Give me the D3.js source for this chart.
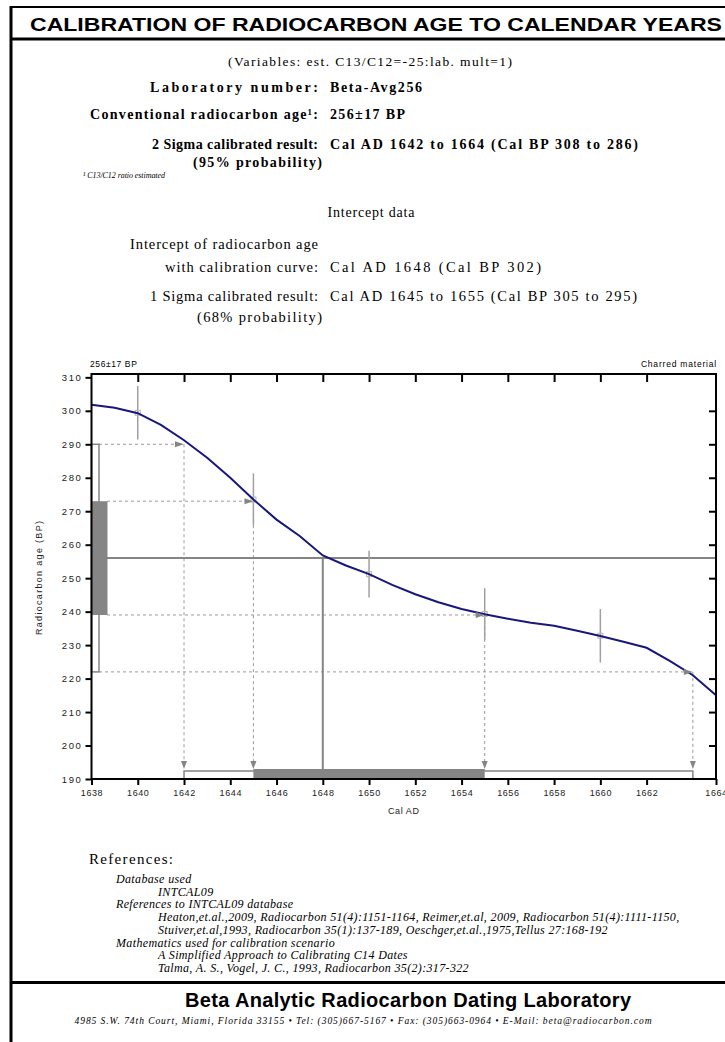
<!DOCTYPE html>
<html>
<head>
<meta charset="utf-8">
<script src="https://cdn.jsdelivr.net/npm/d3@7"></script>
<style>
body { margin: 0; background: #fff; }
svg { display: block; }
</style>
</head>
<body>
<div id="chart"></div>
<script>

// measured sample
const sampleLabel = '256±17 BP';
const materialLabel = 'Charred material';
const measuredAge = 256;
const measuredSigma = 17;
const sigma2Years = [1642, 1664];
const sigma1Years = [1645, 1655];
const interceptYear = 1648;

// calibration curve (INTCAL09)
const curveYears = [1638, 1639, 1640, 1641, 1642, 1643, 1644, 1645, 1646, 1647, 1648, 1649, 1650, 1651,
	1652, 1653, 1654, 1655, 1656, 1657, 1658, 1659, 1660, 1661, 1662, 1663, 1664, 1665];
const curveAges = [301.8, 300.9, 299.3, 295.8, 291.2, 286.0, 280.0, 273.5, 267.5, 262.6, 256.8, 253.8, 251.2, 248.0,
	245.2, 242.8, 240.8, 239.2, 237.9, 236.7, 235.8, 234.3, 232.7, 231.0, 229.2, 225.3, 221.0, 215.0];

// calibration data points with their errors
const dataYears = [1640, 1645, 1650, 1655, 1660];
const dataAges = [299.4, 273.5, 251.2, 239.3, 232.8];
const dataErrors = [8, 7.8, 7, 7.7, 8];

// axes
const xTickValues = [1638, 1640, 1642, 1644, 1646, 1648, 1650, 1652, 1654, 1656, 1658, 1660, 1662, 1665];
const xTickLabels = ['1638', '1640', '1642', '1644', '1646', '1648', '1650', '1652', '1654', '1656', '1658', '1660', '1662', '1664'];
const yTickValues = [190, 200, 210, 220, 230, 240, 250, 260, 270, 280, 290, 300, 310];

// report texts
const titleText = 'CALIBRATION OF RADIOCARBON  AGE TO CALENDAR YEARS';
const variablesText = '(Variables:  est. C13/C12=-25:lab. mult=1)';
const reportLabels = ['Laboratory number:', 'Conventional radiocarbon age¹:', '2 Sigma calibrated result:', '(95% probability)'];
const reportValues = ['Beta-Avg256', '256±17 BP', 'Cal AD 1642 to 1664 (Cal BP 308 to 286)'];
const footnoteText = '¹ C13/C12 ratio estimated';
const interceptTitle = 'Intercept data';
const interceptLabels = ['Intercept of radiocarbon age', 'with calibration curve:', '1 Sigma calibrated result:', '(68% probability)'];
const interceptValues = ['Cal AD 1648 (Cal BP 302)', 'Cal AD 1645 to 1655 (Cal BP 305 to 295)'];
const referenceLines = ['Database used', 'INTCAL09', 'References to INTCAL09 database',
	'Heaton,et.al.,2009, Radiocarbon 51(4):1151-1164, Reimer,et.al, 2009, Radiocarbon 51(4):1111-1150,',
	'Stuiver,et.al,1993, Radiocarbon 35(1):137-189, Oeschger,et.al.,1975,Tellus 27:168-192',
	'Mathematics used for calibration scenario', 'A Simplified Approach to Calibrating C14 Dates',
	'Talma, A. S., Vogel, J. C., 1993, Radiocarbon 35(2):317-322'];
const referenceIndent = [0, 1, 0, 1, 1, 0, 1, 1];
const labName = 'Beta Analytic Radiocarbon Dating Laboratory';
const addressText = '4985 S.W. 74th Court, Miami, Florida 33155 • Tel: (305)667-5167 • Fax: (305)663-0964 • E-Mail: beta@radiocarbon.com';

const width = 725;
const height = 1042;
const serif = '"Liberation Serif", "Times New Roman", serif';
const sans = '"Liberation Sans", Arial, sans-serif';
const grey = '#858585';

let svg = d3.select('#chart').append('svg')
	.attr('width', width)
	.attr('height', height);

// page frame
svg.append('line').attr('x1', 11).attr('x2', width).attr('y1', 7).attr('y2', 7)
	.style('stroke', '#000').style('stroke-width', 2);
svg.append('line').attr('x1', 11).attr('x2', 11).attr('y1', 6).attr('y2', height)
	.style('stroke', '#000').style('stroke-width', 3);
svg.append('line').attr('x1', 11).attr('x2', width).attr('y1', 39).attr('y2', 39)
	.style('stroke', '#000').style('stroke-width', 3);
svg.append('line').attr('x1', 11).attr('x2', width).attr('y1', 982.5).attr('y2', 982.5)
	.style('stroke', '#000').style('stroke-width', 3);

const addText = (txt, x, y, opts) => {
	let t = svg.append('text')
	.attr('x', x)
	.attr('y', y)
	.attr('text-anchor', opts.anchor || 'start')
	.style('font-family', opts.family || serif)
	.style('font-size', opts.size + 'px')
	.style('font-weight', opts.weight || 'normal')
	.style('font-style', opts.italic ? 'italic' : 'normal')
	.style('fill', opts.fill || '#000')
	.text(txt);
	if(opts.len) t.attr('textLength', opts.len).attr('lengthAdjust', opts.adjust || 'spacing');
	if(opts.spacing) t.style('letter-spacing', opts.spacing + 'px');
	return t;
}

addText(titleText, 376, 31, {family: sans, size: 19, weight: 'bold', anchor: 'middle', len: 692, adjust: 'spacingAndGlyphs'});
addText(variablesText, 370, 66, {size: 13.5, anchor: 'middle', len: 284});

// report block, labels right aligned against values
const labelRight = 318;
const valueLeft = 330;
const reportY = [92, 119, 149, 167];
const reportLabelLen = [168, 228, 166, 129];
const reportValueLen = [92, 75, 308];
reportLabels.forEach((l, i) => {
	addText(l, i == 3 ? 322 : labelRight, reportY[i], {size: 14, weight: 'bold', anchor: 'end', len: reportLabelLen[i]});
})
reportValues.forEach((v, i) => {
	addText(v, valueLeft, reportY[i], {size: 14, weight: 'bold', len: reportValueLen[i]});
})
addText(footnoteText, 83, 178, {size: 8, italic: true, len: 82});

addText(interceptTitle, 371, 217, {size: 14, anchor: 'middle', len: 87});
const interceptY = [249, 272, 301, 322];
const interceptLabelLen = [188, 153, 168, 125];
const interceptValueLen = [211, 307];
interceptLabels.forEach((l, i) => {
	addText(l, i == 3 ? 322 : labelRight, interceptY[i], {size: 14.5, anchor: 'end', len: interceptLabelLen[i]});
})
interceptValues.forEach((v, i) => {
	addText(v, valueLeft, interceptY[i + 1], {size: 14.5, len: interceptValueLen[i]});
})

// chart
const plot = {left: 91.5, right: 716, top: 374, bottom: 779};

let x = d3.scaleLinear().domain([1638, 1665]).range([plot.left, plot.right]);
let y = d3.scaleLinear().domain([190, 311]).range([plot.bottom, plot.top]);

let chart = svg.append('g');

addText(sampleLabel, 90, 367, {family: sans, size: 8.5, spacing: 0.6});
addText(materialLabel, 717, 367, {family: sans, size: 8.5, anchor: 'end', spacing: 0.8});

const lo2 = measuredAge - 2 * measuredSigma;
const hi2 = measuredAge + 2 * measuredSigma;
const lo1 = measuredAge - measuredSigma;
const hi1 = measuredAge + measuredSigma;

// dashed projections from the age range to the curve, then down to the year axis
const projections = [
	{age: hi2, year: sigma2Years[0], from: 99},
	{age: hi1, year: sigma1Years[0], from: 107},
	{age: lo1, year: sigma1Years[1], from: 107},
	{age: lo2, year: sigma2Years[1], from: 99}
];

let dashes = chart.append('g')
	.style('stroke', '#9a9a9a')
	.style('stroke-width', 1)
	.style('stroke-dasharray', '3,3')
	.style('fill', 'none');

projections.forEach(p => {
	dashes.append('line')
	.attr('x1', p.from).attr('x2', x(p.year) - 8)
	.attr('y1', y(p.age)).attr('y2', y(p.age));
	dashes.append('line')
	.attr('x1', x(p.year)).attr('x2', x(p.year))
	.attr('y1', y(p.age)).attr('y2', y(190) - 17);
})

// intercept lines
chart.append('line')
	.attr('x1', 107).attr('x2', plot.right)
	.attr('y1', y(measuredAge)).attr('y2', y(measuredAge))
	.style('stroke', grey).style('stroke-width', 2);
chart.append('line')
	.attr('x1', x(interceptYear)).attr('x2', x(interceptYear))
	.attr('y1', y(measuredAge)).attr('y2', y(190))
	.style('stroke', grey).style('stroke-width', 2);

// calibration data with error bars
let points = chart.append('g');
dataYears.forEach((yr, i) => {
	points.append('line')
	.attr('x1', x(yr)).attr('x2', x(yr))
	.attr('y1', y(dataAges[i] + dataErrors[i])).attr('y2', y(dataAges[i] - dataErrors[i]))
	.style('stroke', '#a0a0a0').style('stroke-width', 1.5);
	points.append('rect')
	.attr('x', x(yr) - 2.5).attr('y', y(dataAges[i]) - 2.5)
	.attr('width', 5).attr('height', 5)
	.style('fill', 'none').style('stroke', '#b5b5b5');
})

// calibration curve
let line = d3.line()
	.x(d => x(d[0]))
	.y(d => y(d[1]));

chart.append('path')
	.datum(curveYears.map((yr, i) => [yr, curveAges[i]]))
	.attr('d', line)
	.style('fill', 'none')
	.style('stroke', '#17177d')
	.style('stroke-width', 2);

// arrowheads
projections.forEach(p => {
	let tx = x(p.year), ty = y(p.age);
	chart.append('path')
	.attr('d', `M${tx},${ty}L${tx - 9},${ty - 3}L${tx - 9},${ty + 3}Z`)
	.style('fill', grey);
	let by = y(190) - 10;
	chart.append('path')
	.attr('d', `M${tx},${by}L${tx - 3},${by - 8}L${tx + 3},${by - 8}Z`)
	.style('fill', grey);
})

// age ranges on the y axis
chart.append('rect')
	.attr('x', plot.left).attr('y', y(hi2))
	.attr('width', 7.5).attr('height', y(lo2) - y(hi2))
	.style('fill', '#fff').style('stroke', grey).style('stroke-width', 1.5);
chart.append('rect')
	.attr('x', plot.left).attr('y', y(hi1))
	.attr('width', 16).attr('height', y(lo1) - y(hi1))
	.style('fill', grey);

// calendar ranges on the x axis
chart.append('rect')
	.attr('x', x(sigma2Years[0])).attr('y', y(190) - 8)
	.attr('width', x(sigma2Years[1]) - x(sigma2Years[0])).attr('height', 8)
	.style('fill', '#fff').style('stroke', grey).style('stroke-width', 1.5);
chart.append('rect')
	.attr('x', x(sigma1Years[0])).attr('y', y(190) - 10)
	.attr('width', x(sigma1Years[1]) - x(sigma1Years[0])).attr('height', 10)
	.style('fill', grey);

// axes
let xAxis = chart.append('g')
	.attr('transform', `translate(0,${plot.bottom})`)
	.call(d3.axisBottom(x).tickValues(xTickValues).tickFormat((d, i) => xTickLabels[i]).tickSize(6).tickPadding(5));

let yAxis = chart.append('g')
	.attr('transform', `translate(${plot.left},0)`)
	.call(d3.axisLeft(y).tickValues(yTickValues).tickSize(6).tickPadding(3));

let topAxis = chart.append('g')
	.attr('transform', `translate(0,${plot.top})`)
	.call(d3.axisTop(x).tickValues(xTickValues.slice(1, -1)).tickFormat('').tickSize(-8));

let rightAxis = chart.append('g')
	.attr('transform', `translate(${plot.right},0)`)
	.call(d3.axisRight(y).tickValues(yTickValues.slice(1, -1)).tickFormat('').tickSize(-7));

[xAxis, yAxis, topAxis, rightAxis].forEach(a => {
	a.select('.domain').remove();
	a.selectAll('line').style('stroke', '#000').style('stroke-width', 2);
})

xAxis.selectAll('text')
	.style('font-family', sans).style('font-size', '9px').style('letter-spacing', '0.6px').style('fill', '#222');
yAxis.selectAll('text')
	.style('font-family', sans).style('font-size', '9.5px').style('letter-spacing', '1.6px').style('fill', '#222');

// plot frame
chart.append('rect')
	.attr('x', plot.left).attr('y', plot.top)
	.attr('width', plot.right - plot.left).attr('height', plot.bottom - plot.top)
	.style('fill', 'none').style('stroke', '#000').style('stroke-width', 2);

addText('Cal AD', (plot.left + plot.right) / 2, 814, {family: sans, size: 9, anchor: 'middle', spacing: 0.6, fill: '#222'});

svg.append('text')
	.attr('transform', 'translate(42,578) rotate(-90)')
	.attr('text-anchor', 'middle')
	.attr('textLength', 114)
	.attr('lengthAdjust', 'spacing')
	.style('font-family', sans)
	.style('font-size', '9px')
	.style('fill', '#222')
	.text('Radiocarbon age (BP)');

// references
addText('References:', 89, 864, {size: 15, len: 84});
const refY0 = 883;
const refStep = 12.7;
referenceLines.forEach((r, i) => {
	addText(r, referenceIndent[i] ? 158 : 116, refY0 + i * refStep, {size: 12, italic: true, spacing: 0.35});
})

// footer
addText(labName, 408, 1007, {family: sans, size: 20, weight: 'bold', anchor: 'middle', len: 446});
addText(addressText, 363, 1024, {size: 9.5, italic: true, anchor: 'middle', len: 577});

</script>
</body>
</html>
